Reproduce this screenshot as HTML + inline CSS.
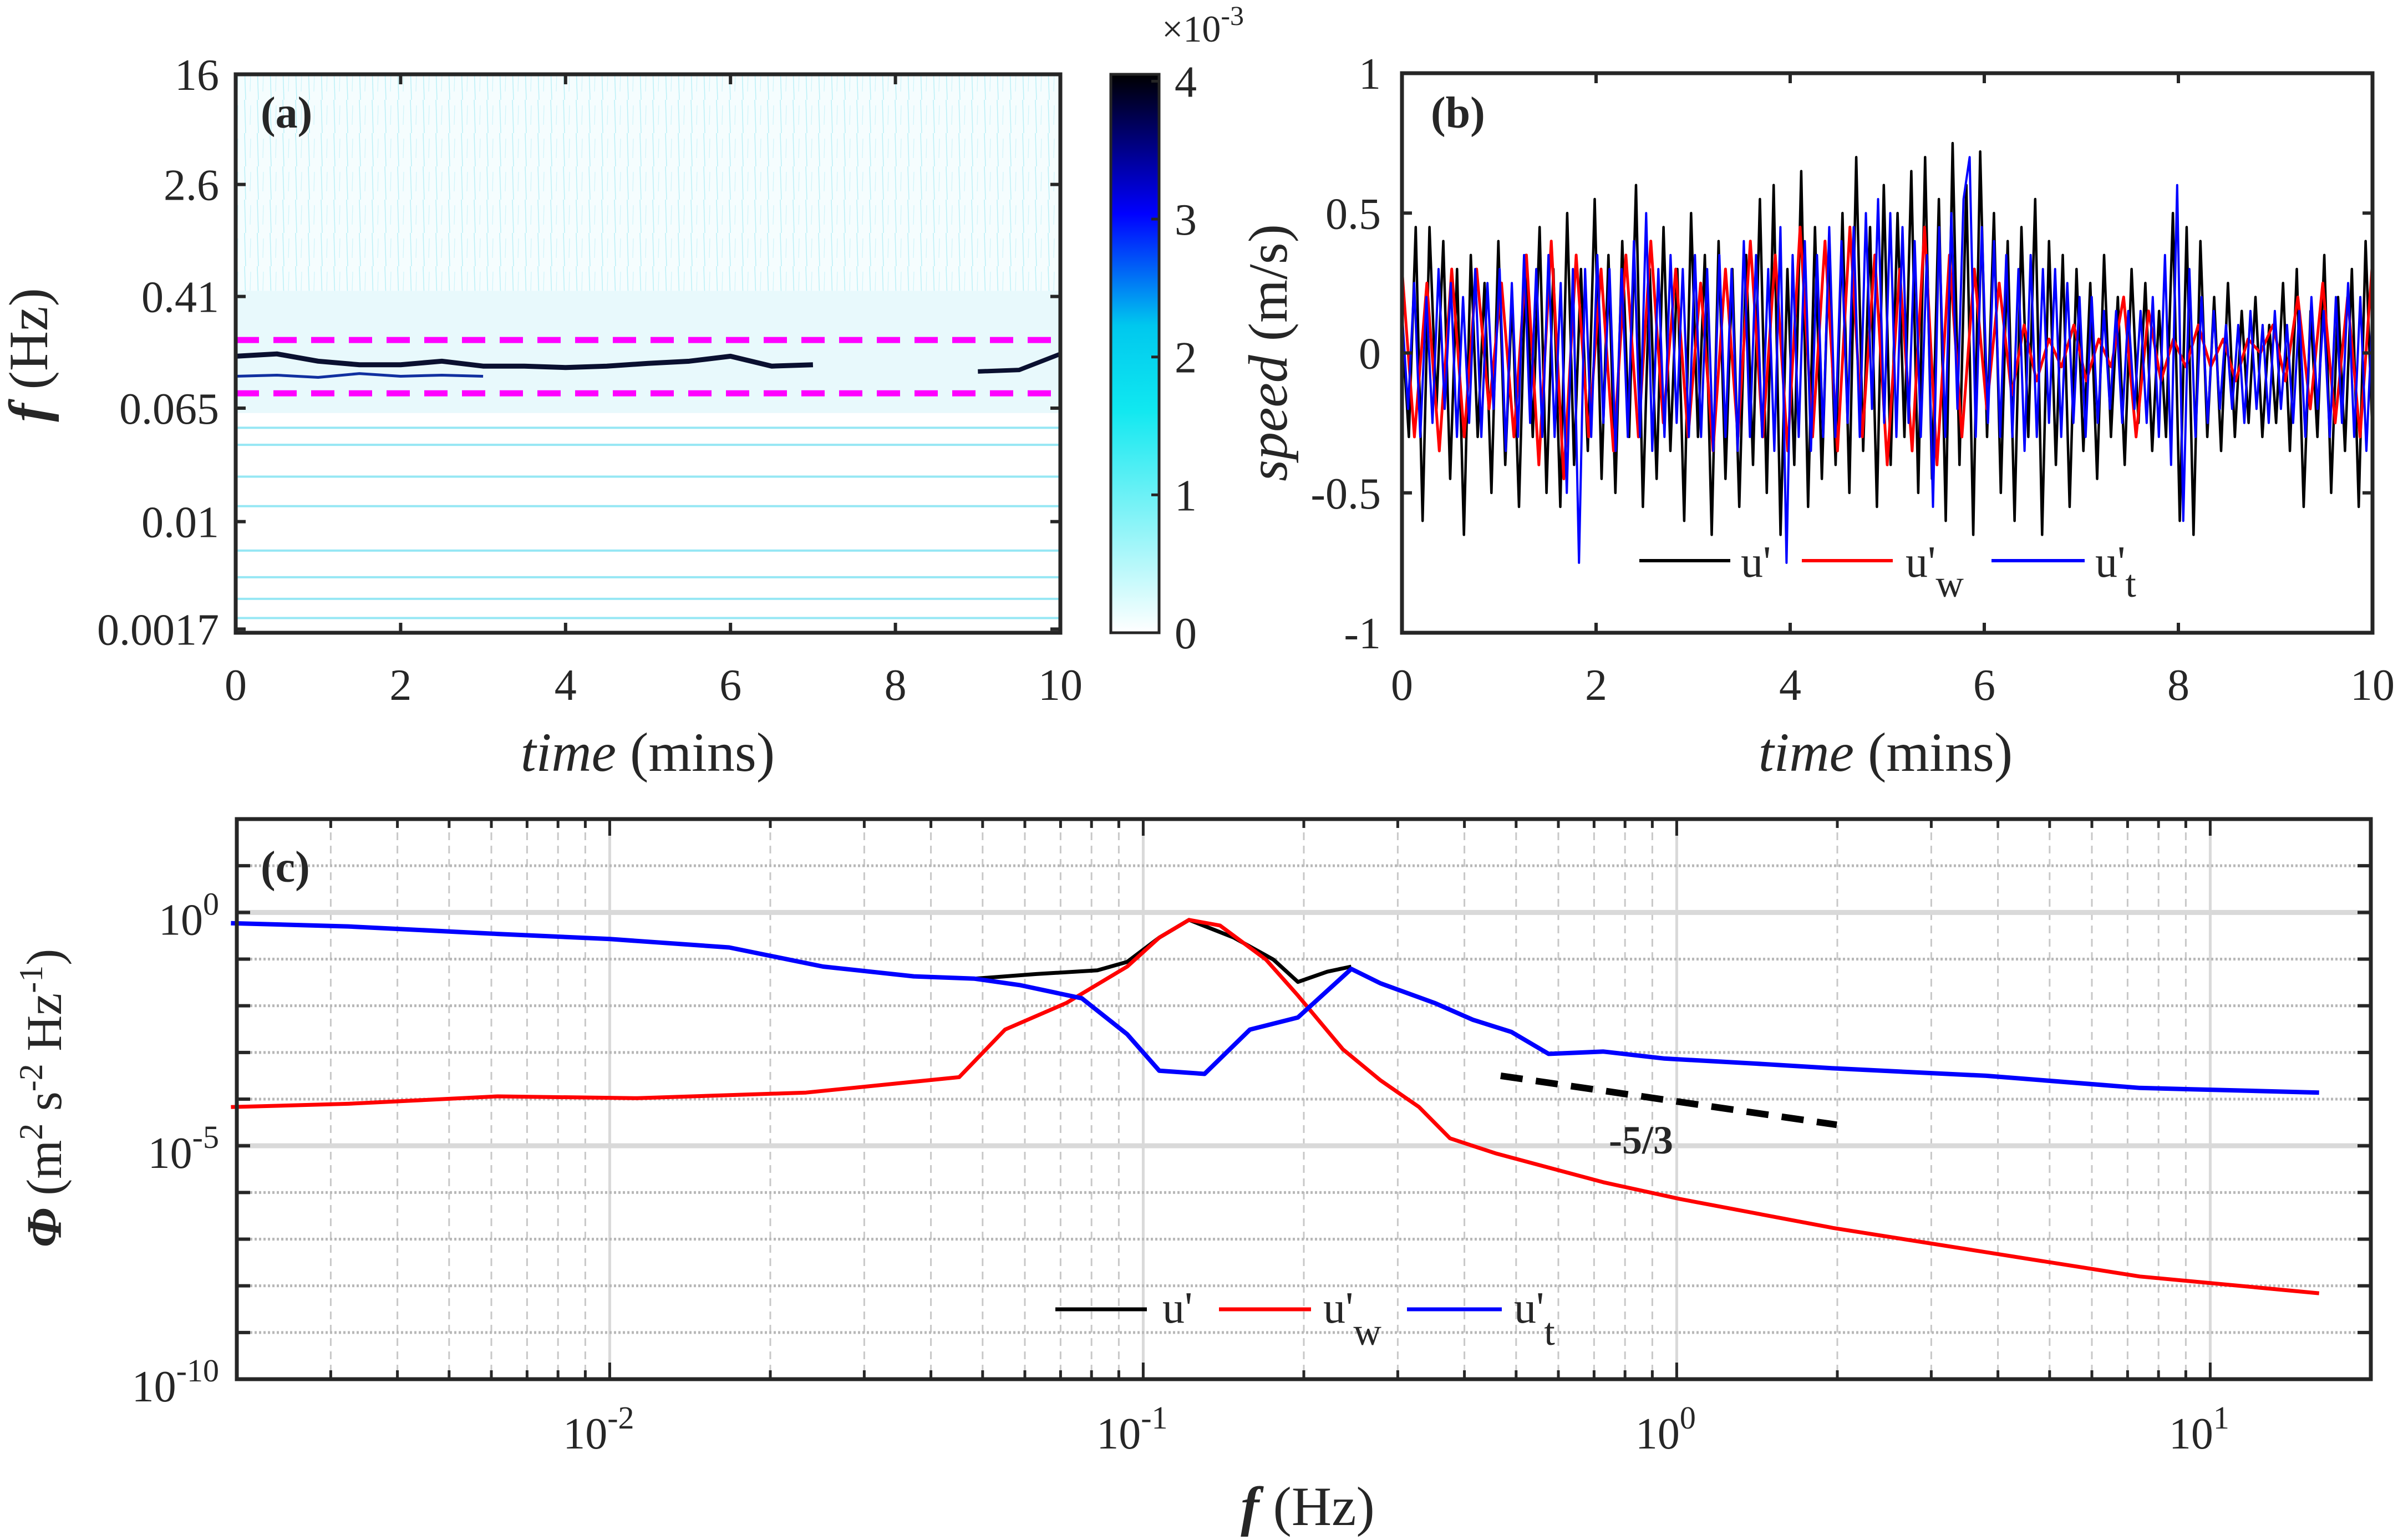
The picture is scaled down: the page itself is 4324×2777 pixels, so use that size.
<!DOCTYPE html>
<html><head><meta charset="utf-8"><style>
html,body{margin:0;padding:0;background:#fff}
svg{display:block;font-family:"Liberation Serif","Times New Roman",serif}
svg text{font-family:"Liberation Serif","Times New Roman",serif;fill:#262626}
</style></head><body>
<svg id="fig" width="4324" height="2777" viewBox="0 0 4324 2777" xmlns="http://www.w3.org/2000/svg" font-family="Liberation Serif, serif">
<defs>
<linearGradient id="cbgrad" x1="0" y1="1" x2="0" y2="0">
<stop offset="0" stop-color="#ffffff"/><stop offset="0.4" stop-color="#10e8f0"/><stop offset="0.55" stop-color="#00c8ee"/><stop offset="0.75" stop-color="#0000ff"/><stop offset="1" stop-color="#000000"/>
</linearGradient>
<pattern id="streaks" width="23" height="60" patternUnits="userSpaceOnUse">
<line x1="4" y1="0" x2="6" y2="60" stroke="#2fd0e8" stroke-width="1.5" opacity="0.3"/>
<line x1="15" y1="10" x2="14" y2="45" stroke="#2fd0e8" stroke-width="1.2" opacity="0.2"/>
</pattern>
</defs>
</svg>
<script>
// ---------- Panel (a) data ----------
const aTimeTicks=[0,2,4,6,8,10];
const aFreqTicks=[16,2.6,0.41,0.065,0.01,0.0017];
const aFreqTickLabels=["16","2.6","0.41","0.065","0.01","0.0017"];
const ridgeT=[0,0.5,1,1.5,2,2.5,3,3.5,4,4.5,5,5.5,6,6.5,7];
const ridgeF=[0.153,0.159,0.141,0.133,0.133,0.141,0.130,0.130,0.127,0.130,0.136,0.141,0.153,0.130,0.133];
const ridge2T=[9,9.5,10];
const ridge2F=[0.119,0.122,0.159];
const ridge3T=[0,0.5,1,1.5,2,2.5,3];
const ridge3F=[0.11,0.112,0.108,0.115,0.11,0.112,0.11];
const lowLineF=[0.047,0.0355,0.021,0.0129,0.0062,0.004,0.0028,0.00204];
const bandLimits=[0.2,0.083];
const cbTicks=[0,1,2,3,4];
// ---------- Panel (b) data ----------
const bTimeTicks=[0,2,4,6,8,10];
const bSpeedTicks=[1,0.5,0,-0.5,-1];
const bSpeedLabels=["1","0.5","0","-0.5","-1"];
const uBlack=[0.1,-0.3,0.45,-0.6,0.45,-0.2,0.4,-0.45,0.3,-0.65,0.35,-0.3,0.25,-0.5,0.4,-0.4,0.2,-0.55,0.35,-0.3,0.45,-0.5,0.3,-0.55,0.5,-0.4,0.3,-0.35,0.55,-0.45,0.35,-0.5,0.4,-0.3,0.6,-0.55,0.3,-0.45,0.45,-0.35,0.3,-0.6,0.5,-0.3,0.35,-0.65,0.4,-0.45,0.3,-0.55,0.35,-0.4,0.55,-0.5,0.6,-0.65,0.3,-0.4,0.65,-0.55,0.45,-0.45,0.35,-0.4,0.5,-0.5,0.7,-0.35,0.45,-0.55,0.6,-0.4,0.5,-0.3,0.65,-0.5,0.7,-0.45,0.55,-0.6,0.75,-0.4,0.6,-0.65,0.72,-0.3,0.5,-0.5,0.4,-0.6,0.45,-0.3,0.55,-0.65,0.4,-0.4,0.35,-0.55,0.3,-0.35,0.25,-0.45,0.35,-0.3,0.2,-0.4,0.3,-0.25,0.25,-0.35,0.15,-0.3,0.5,-0.6,0.45,-0.65,0.4,-0.3,0.2,-0.35,0.25,-0.3,0.15,-0.25,0.2,-0.3,0.1,-0.25,0.25,-0.35,0.3,-0.55,0.15,-0.3,0.35,-0.5,0.2,-0.35,0.3,-0.55,0.4,-0.3];
const uRed=[0.3,-0.3,0.25,-0.35,0.3,-0.3,0.3,-0.2,0.25,-0.3,0.35,-0.4,0.4,-0.45,0.35,-0.3,0.3,-0.35,0.35,-0.3,0.4,-0.25,0.3,-0.3,0.25,-0.35,0.3,-0.3,0.4,-0.3,0.35,-0.35,0.45,-0.3,0.4,-0.35,0.45,-0.3,0.35,-0.4,0.3,-0.35,0.45,-0.4,0.35,-0.3,0.3,-0.2,0.25,-0.15,0.1,-0.1,0.05,-0.05,0.1,-0.1,0.05,-0.05,0.2,-0.3,0.15,-0.1,0.05,-0.05,0.1,-0.05,0.05,-0.1,0.05,0,0.1,-0.1,0.2,-0.2,0.25,-0.25,0.2,-0.3,0.33];
const uBlue=[0.15,-0.2,0.25,-0.3,0.2,-0.25,0.3,-0.2,0.25,-0.3,0.2,-0.25,0.3,-0.3,0.25,-0.2,0.3,-0.35,0.25,-0.3,0.35,-0.25,0.3,-0.3,0.35,-0.3,0.25,-0.5,0.3,-0.75,0.3,-0.3,0.35,-0.25,0.3,-0.35,0.3,-0.3,0.4,-0.3,0.5,-0.35,0.3,-0.3,0.35,-0.25,0.3,-0.3,0.35,-0.3,0.3,-0.35,0.35,-0.3,0.3,-0.35,0.4,-0.3,0.35,-0.3,0.3,-0.35,0.45,-0.75,0.35,-0.3,0.4,-0.35,0.35,-0.3,0.45,-0.3,0.4,-0.25,0.45,-0.3,0.5,-0.2,0.55,-0.25,0.5,-0.3,0.45,-0.25,0.4,-0.3,0.35,-0.55,0.45,-0.3,0.5,-0.2,0.55,0.7,-0.3,0.45,-0.25,0.4,-0.3,0.35,-0.3,0.3,-0.35,0.35,-0.3,0.3,-0.25,0.3,-0.3,0.25,-0.25,0.2,-0.3,0.2,-0.25,0.15,-0.2,0.15,-0.25,0.15,-0.2,0.15,-0.25,0.2,-0.3,0.35,-0.4,0.6,-0.6,0.3,-0.3,0.2,-0.25,0.15,-0.2,0.1,-0.2,0.1,-0.25,0.15,-0.2,0.1,-0.25,0.15,-0.2,0.1,-0.25,0.15,-0.3,0.2,-0.2,0.15,-0.3,0.2,-0.25,0.25,-0.3,0.2,-0.35,0.15];
// ---------- Panel (c) data (log10 f, log10 Phi) ----------
const cXTickExp=[-2,-1,0,1];
const cYTickExp=[0,-5,-10];
const blueLogF=[-2.71,-2.49,-2.21,-2.0,-1.776,-1.60,-1.43,-1.316,-1.23,-1.115,-1.03,-0.97,-0.885,-0.80,-0.71,-0.61,-0.555,-0.454,-0.382,-0.31,-0.24,-0.138,-0.023,0.149,0.293,0.58,0.868,1.204];
const blueLogP=[-0.23,-0.30,-0.46,-0.57,-0.75,-1.16,-1.37,-1.42,-1.56,-1.84,-2.61,-3.39,-3.46,-2.51,-2.25,-1.21,-1.52,-1.94,-2.30,-2.56,-3.03,-2.98,-3.13,-3.24,-3.34,-3.50,-3.76,-3.86];
const blackLogF=[-1.316,-1.20,-1.086,-1.03,-0.97,-0.914,-0.83,-0.756,-0.71,-0.655,-0.61];
const blackLogP=[-1.42,-1.32,-1.24,-1.06,-0.54,-0.16,-0.54,-1.01,-1.49,-1.27,-1.16];
const redLogF=[-2.71,-2.49,-2.21,-1.948,-1.632,-1.345,-1.259,-1.144,-1.03,-0.97,-0.914,-0.856,-0.77,-0.71,-0.626,-0.555,-0.483,-0.425,-0.34,-0.138,0.006,0.293,0.58,0.868,1.204];
const redLogP=[-4.17,-4.10,-3.94,-3.98,-3.86,-3.53,-2.51,-1.94,-1.16,-0.54,-0.16,-0.28,-1.01,-1.78,-2.93,-3.60,-4.17,-4.84,-5.16,-5.78,-6.14,-6.76,-7.28,-7.80,-8.16];
const slopeLogF=[-0.33,0.30];
const slopeLogP=[-3.5,-4.55];

const NS="http://www.w3.org/2000/svg";
const svg=document.getElementById('fig');
const FF='"Liberation Serif", serif';
function el(tag,attrs,parent){const e=document.createElementNS(NS,tag);for(const k in attrs)e.setAttribute(k,attrs[k]);(parent||svg).appendChild(e);return e;}
function txt(x,y,s,size,parent,extra){const t=el('text',Object.assign({x:x,y:y,'font-size':size,'font-family':FF},extra||{}),parent);t.textContent=s;return t;}
function rich(attrs,html,parent){const t=el('text',Object.assign({'font-family':FF,fill:'#262626'},attrs),parent);t.innerHTML=html;return t;}
const AX='#262626';

// ================= PANEL A =================
const A={l:425,r:1912,t:134,b:1141,fmin:Math.log10(0.0016),fmax:Math.log10(16)};
const ax=t=>A.l+(t/10)*(A.r-A.l);
const ay=f=>A.b-(Math.log10(f)-A.fmin)/(A.fmax-A.fmin)*(A.b-A.t);
const gA=el('g',{});


let r=el('rect',{x:A.l,y:A.t,width:A.r-A.l,height:A.b-A.t,fill:'#fff'},gA);
r=el('rect',{x:A.l,y:A.t,width:A.r-A.l,height:ay(0.3)-A.t,fill:'#f5fdfe'},gA);


el('rect',{x:A.l,y:A.t,width:A.r-A.l,height:ay(0.3)-A.t,fill:'url(#streaks)'},gA);
r=el('rect',{x:A.l,y:ay(0.45),width:A.r-A.l,height:ay(0.06)-ay(0.45),fill:'#e8f9fc'},gA);


lowLineF.forEach((f,i)=>{
  const ln=el('line',{x1:A.l,x2:A.r,y1:ay(f),y2:ay(f),stroke:'#30d0ea','stroke-width':4,opacity:0.5},gA);
  
  
});
function ridge(T,F,col,w,name){
  const p=el('path',{d:T.map((t,i)=>(i?'L':'M')+ax(t)+','+ay(F[i])).join(''),fill:'none',stroke:col,'stroke-width':w,'stroke-linejoin':'round'},gA);
  
  
}
ridge(ridge3T,ridge3F,'#1030a0',5,'secondary-ridge');
ridge(ridgeT,ridgeF,'#0a1030',9,'dominant-ridge');
ridge(ridge2T,ridge2F,'#0a1030',8,'late-ridge');
bandLimits.forEach(f=>{
  const ln=el('line',{x1:A.l,x2:A.r,y1:ay(f),y2:ay(f),stroke:'#ff00ff','stroke-width':11,'stroke-dasharray':'42 26'},gA);
  
  
});
el('rect',{x:A.l,y:A.t,width:A.r-A.l,height:A.b-A.t,fill:'none',stroke:AX,'stroke-width':7},gA);
aTimeTicks.forEach(t=>{
  el('line',{x1:ax(t),x2:ax(t),y1:A.b,y2:A.b-18,stroke:AX,'stroke-width':6},gA);
  el('line',{x1:ax(t),x2:ax(t),y1:A.t,y2:A.t+18,stroke:AX,'stroke-width':6},gA);
  const l=txt(ax(t),1262,String(t),80,gA,{'text-anchor':'middle'});
  
  
});
aFreqTicks.forEach((f,i)=>{
  const y=Math.min(ay(f),A.b-5);
  el('line',{x1:A.l,x2:A.l+18,y1:y,y2:y,stroke:AX,'stroke-width':6},gA);
  el('line',{x1:A.r,x2:A.r-18,y1:y,y2:y,stroke:AX,'stroke-width':6},gA);
  const l=txt(395,y+28,aFreqTickLabels[i],80,gA,{'text-anchor':'end'});
  
  
});
let t=txt(470,230,'(a)',80,gA,{'font-weight':'bold'});


t=rich({x:1168,y:1390,'font-size':100,'text-anchor':'middle'},'<tspan font-style="italic">time</tspan> (mins)',gA);


t=rich({x:0,y:0,'font-size':100,'text-anchor':'middle',transform:'translate(85,640) rotate(-90)'},'<tspan font-style="italic" font-weight="bold">f</tspan> (Hz)',gA);


// colorbar
const CB={l:2003,r:2090,t:134,b:1141};
const cy=v=>CB.b-v/4.05*(CB.b-CB.t);
r=el('rect',{x:CB.l,y:CB.t,width:CB.r-CB.l,height:CB.b-CB.t,fill:'url(#cbgrad)',stroke:AX,'stroke-width':5});


cbTicks.forEach(v=>{
  el('line',{x1:CB.r,x2:CB.r-14,y1:cy(v),y2:cy(v),stroke:AX,'stroke-width':5});
  const l=txt(2118,cy(v)+28,String(v),80);
  
  
});
t=rich({x:2095,y:75,'font-size':68},'×10<tspan dy="-30" font-size="50">-3</tspan>');



// ================= PANEL B =================
const B={l:2528,r:4278,t:132,b:1141};
const bx=tm=>B.l+(tm/10)*(B.r-B.l);
const by=v=>B.t+(1-v)/2*(B.b-B.t);
const gB=el('g',{});


el('rect',{x:B.l,y:B.t,width:B.r-B.l,height:B.b-B.t,fill:'#fff'},gB);
function series(arr,col,w,name){
  const n=arr.length;
  const p=el('path',{d:arr.map((v,i)=>(i?'L':'M')+bx(i/(n-1)*10).toFixed(1)+','+by(v).toFixed(1)).join(''),fill:'none',stroke:col,'stroke-width':w,'stroke-linejoin':'round'},gB);
  
  
}
series(uBlack,'#000',4.5,'series-u-prime');
series(uRed,'#ff0000',5,'series-u-wave');
series(uBlue,'#0000ff',4,'series-u-turbulent');
el('rect',{x:B.l,y:B.t,width:B.r-B.l,height:B.b-B.t,fill:'none',stroke:AX,'stroke-width':7},gB);
bTimeTicks.forEach(tm=>{
  el('line',{x1:bx(tm),x2:bx(tm),y1:B.b,y2:B.b-18,stroke:AX,'stroke-width':6},gB);
  el('line',{x1:bx(tm),x2:bx(tm),y1:B.t,y2:B.t+18,stroke:AX,'stroke-width':6},gB);
  const l=txt(bx(tm),1262,String(tm),80,gB,{'text-anchor':'middle'});
  
  
});
bSpeedTicks.forEach((v,i)=>{
  el('line',{x1:B.l,x2:B.l+18,y1:by(v),y2:by(v),stroke:AX,'stroke-width':6},gB);
  el('line',{x1:B.r,x2:B.r-18,y1:by(v),y2:by(v),stroke:AX,'stroke-width':6},gB);
  const l=txt(2490,by(v)+28,bSpeedLabels[i],80,gB,{'text-anchor':'end'});
  
  
});
t=txt(2580,230,'(b)',80,gB,{'font-weight':'bold'});


t=rich({x:3400,y:1390,'font-size':100,'text-anchor':'middle'},'<tspan font-style="italic">time</tspan> (mins)',gB);


t=rich({x:0,y:0,'font-size':100,'text-anchor':'middle',transform:'translate(2320,636) rotate(-90)'},'<tspan font-style="italic">speed</tspan> (m/s)',gB);


// legend b
const legB=el('g',{},gB);


[[2956,3120,'#000',"u'",'',3139],[3249,3413,'#ff0000',"u'",'w',3436],[3591,3759,'#0000ff',"u'",'t',3778]].forEach(e=>{
  el('line',{x1:e[0],x2:e[1],y1:1011,y2:1011,stroke:e[2],'stroke-width':6},legB);
  const l=rich({x:e[5],y:1040,'font-size':80},e[3]+(e[4]?'<tspan dy="36" font-size="70">'+e[4]+'</tspan>':''),legB);
  
  
});

// ================= PANEL C =================
const C={l:427,r:4275,t:1477,b:2487,xmin:Math.log10(0.002),xmax:Math.log10(20),ymin:-10,ymax:2};
const cx=lf=>C.l+(lf-C.xmin)/(C.xmax-C.xmin)*(C.r-C.l);
const cyy=lp=>C.b-(lp-C.ymin)/(C.ymax-C.ymin)*(C.b-C.t);
const gC=el('g',{});


for(let d=-3;d<=1;d++){for(let m=1;m<=9;m++){const lf=d+Math.log10(m);if(lf<=C.xmin+1e-6||lf>=C.xmax)continue;
  if(m===1){el('line',{x1:cx(lf),x2:cx(lf),y1:C.t,y2:C.b,stroke:'#d9d9d9','stroke-width':5},gC);}
  else{el('line',{x1:cx(lf),x2:cx(lf),y1:C.t,y2:C.b,stroke:'#c8c8c8','stroke-width':3,'stroke-dasharray':'14 10'},gC);}
  const len=m===1?30:16;
  el('line',{x1:cx(lf),x2:cx(lf),y1:C.b,y2:C.b-len,stroke:AX,'stroke-width':5},gC);
  el('line',{x1:cx(lf),x2:cx(lf),y1:C.t,y2:C.t+len,stroke:AX,'stroke-width':5},gC);
}}
for(let e=-9;e<=1;e++){
  if(e%5===0){el('line',{x1:C.l,x2:C.r,y1:cyy(e),y2:cyy(e),stroke:'#d9d9d9','stroke-width':9},gC);}
  else{el('line',{x1:C.l,x2:C.r,y1:cyy(e),y2:cyy(e),stroke:'#b8b8b8','stroke-width':5,'stroke-dasharray':'4 4'},gC);}
  el('line',{x1:C.l,x2:C.l+24,y1:cyy(e),y2:cyy(e),stroke:AX,'stroke-width':6},gC);
  el('line',{x1:C.r,x2:C.r-24,y1:cyy(e),y2:cyy(e),stroke:AX,'stroke-width':6},gC);
}
function curve(LF,LP,col,w,name){
  const p=el('path',{d:LF.map((f,i)=>(i?'L':'M')+cx(f).toFixed(1)+','+cyy(LP[i]).toFixed(1)).join(''),fill:'none',stroke:col,'stroke-width':w,'stroke-linejoin':'round'},gC);
  
  
}
curve(blackLogF,blackLogP,'#000',7,'spectrum-u-prime');
curve(redLogF,redLogP,'#ff0000',7,'spectrum-u-wave');
curve(blueLogF,blueLogP,'#0000ff',8,'spectrum-u-turbulent');
let sl=el('line',{x1:cx(slopeLogF[0]),y1:cyy(slopeLogP[0]),x2:cx(slopeLogF[1]),y2:cyy(slopeLogP[1]),stroke:'#000','stroke-width':12,'stroke-dasharray':'40 24'},gC);


t=txt(2959,2080,'-5/3',72,gC,{'text-anchor':'middle','font-weight':'bold'});


el('rect',{x:C.l,y:C.t,width:C.r-C.l,height:C.b-C.t,fill:'none',stroke:AX,'stroke-width':7},gC);
cXTickExp.forEach(e=>{
  const l=rich({x:cx(e)-20,y:2612,'font-size':80,'text-anchor':'middle'},'10<tspan dy="-36" font-size="58">'+e+'</tspan>',gC);
  
  
});
cYTickExp.forEach(e=>{
  const l=rich({x:395,y:cyy(e)+40,'font-size':80,'text-anchor':'end'},'10<tspan dy="-36" font-size="58">'+e+'</tspan>',gC);
  
  
});
t=txt(470,1590,'(c)',80,gC,{'font-weight':'bold'});


t=rich({x:2358,y:2750,'font-size':100,'text-anchor':'middle'},'<tspan font-style="italic" font-weight="bold">f</tspan> (Hz)',gC);


t=rich({x:0,y:0,'font-size':90,'text-anchor':'middle',transform:'translate(110,1980) rotate(-90)'},'<tspan font-style="italic" font-weight="bold">Φ</tspan> (m<tspan dy="-34" font-size="60">2</tspan><tspan dy="34"> s</tspan><tspan dy="-34" font-size="60">-2</tspan><tspan dy="34"> Hz</tspan><tspan dy="-34" font-size="60">-1</tspan><tspan dy="34">)</tspan>',gC);


const legC=el('g',{},gC);


[[1903,2068,'#000',"u'",'',2096],[2198,2364,'#ff0000',"u'",'w',2386],[2537,2708,'#0000ff',"u'",'t',2730]].forEach(e=>{
  el('line',{x1:e[0],x2:e[1],y1:2361,y2:2361,stroke:e[2],'stroke-width':7},legC);
  const l=rich({x:e[5],y:2385,'font-size':80},e[3]+(e[4]?'<tspan dy="40" font-size="70">'+e[4]+'</tspan>':''),legC);
  
  
});
</script>
</body></html>
